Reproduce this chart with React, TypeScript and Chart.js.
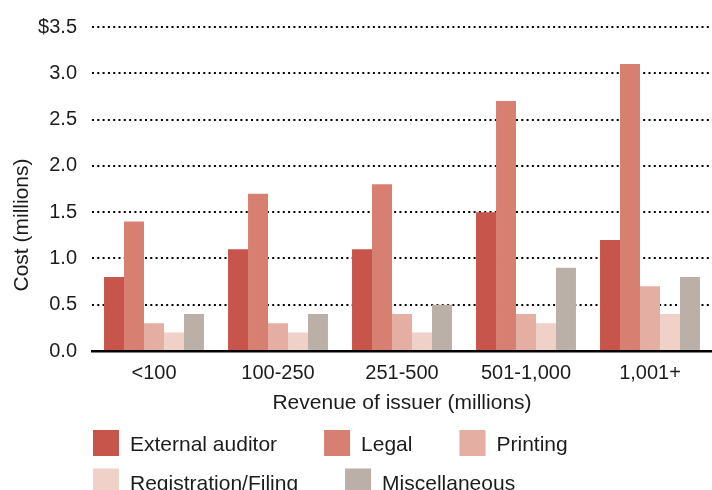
import React, { useEffect, useRef } from "react";
import { Chart, registerables } from "chart.js";

Chart.register(...registerables);

const categories = ["<100", "100-250", "251-500", "501-1,000", "1,001+"];
const seriesNames = ["External auditor", "Legal", "Printing", "Registration/Filing", "Miscellaneous"];
const externalAuditor = [0.8, 1.1, 1.1, 1.5, 1.2];
const legal = [1.4, 1.7, 1.8, 2.7, 3.1];
const printing = [0.3, 0.3, 0.4, 0.4, 0.7];
const registrationFiling = [0.2, 0.2, 0.2, 0.3, 0.4];
const miscellaneous = [0.4, 0.4, 0.5, 0.9, 0.8];
const yTickLabels = ["0.0", "0.5", "1.0", "1.5", "2.0", "2.5", "3.0", "$3.5"];
const colors = ["#C8554B", "#D78072", "#E4AFA2", "#EFD1C8", "#BAB0A7"];

const FONT = "'Liberation Sans', Arial, Helvetica, sans-serif";
const TEXT = "#1c1c1c";

const customText = {
  id: "customText",
  afterDraw(chart: any) {
    const ctx = chart.ctx;
    ctx.save();
    ctx.fillStyle = TEXT;
    ctx.font = `21px ${FONT}`;
    ctx.translate(22, 225);
    ctx.rotate(-Math.PI / 2);
    ctx.textAlign = "center";
    ctx.textBaseline = "middle";
    ctx.fillText("Cost (millions)", 0, 0);
    ctx.restore();

    ctx.save();
    ctx.font = `21px ${FONT}`;
    ctx.textBaseline = "alphabetic";
    ctx.textAlign = "left";
    const startX = 93;
    const rowTops = [430, 468.5];
    const box = 26;
    let x = startX;
    let row = 0;
    chart.data.datasets.forEach((ds: any, i: number) => {
      if (i === 3) {
        row = 1;
        x = startX;
      }
      const top = rowTops[row];
      ctx.fillStyle = ds.backgroundColor;
      ctx.fillRect(x, top, box, box);
      ctx.fillStyle = TEXT;
      const tx = x + box + 11;
      ctx.fillText(ds.label, tx, top + 21);
      const w = ctx.measureText(ds.label).width;
      x = tx + w + 47;
    });
    ctx.restore();
  },
};

export default function App() {
  const ref = useRef<HTMLCanvasElement | null>(null);
  useEffect(() => {
    if (!ref.current) return;
    const seriesData = [externalAuditor, legal, printing, registrationFiling, miscellaneous];
    const chart = new Chart(ref.current, {
      type: "bar",
      data: {
        labels: categories,
        datasets: seriesNames.map((name, i) => ({
          label: name,
          data: seriesData[i],
          backgroundColor: colors[i],
          borderWidth: 0,
          categoryPercentage: 0.806,
          barPercentage: 1.0,
        })),
      },
      options: {
        responsive: false,
        animation: false,
        devicePixelRatio: 1,
        layout: { padding: { top: 23, left: 0, right: 0, bottom: 74 } },
        plugins: {
          legend: { display: false },
          tooltip: { enabled: false },
        },
        scales: {
          x: {
            afterFit: (s: any) => {
              s.height = 65;
            },
            grid: { display: false, drawTicks: false },
            border: { display: true, color: "#000", width: 2.5 },
            ticks: {
              color: TEXT,
              font: { family: FONT, size: 20 },
              padding: 10,
              maxRotation: 0,
            },
            title: {
              display: true,
              text: "Revenue of issuer (millions)",
              color: TEXT,
              font: { family: FONT, size: 21 },
              padding: { top: 0, bottom: 0 },
            },
          },
          y: {
            min: 0,
            max: 3.5,
            afterFit: (s: any) => {
              s.width = 92;
            },
            grid: {
              color: "#000",
              lineWidth: 2,
              drawTicks: false,
            },
            border: { display: false, dash: [2, 3.3] },
            ticks: {
              stepSize: 0.5,
              color: TEXT,
              font: { family: FONT, size: 20 },
              padding: 15,
              callback: (_v: any, i: number) => yTickLabels[i],
            },
          },
        },
      },
      plugins: [customText],
    });
    return () => chart.destroy();
  }, []);
  return (
    <div style={{ position: "absolute", left: 0, top: 0, width: 712, height: 490, background: "#fff" }}>
      <canvas ref={ref} width={712} height={490} />
    </div>
  );
}
